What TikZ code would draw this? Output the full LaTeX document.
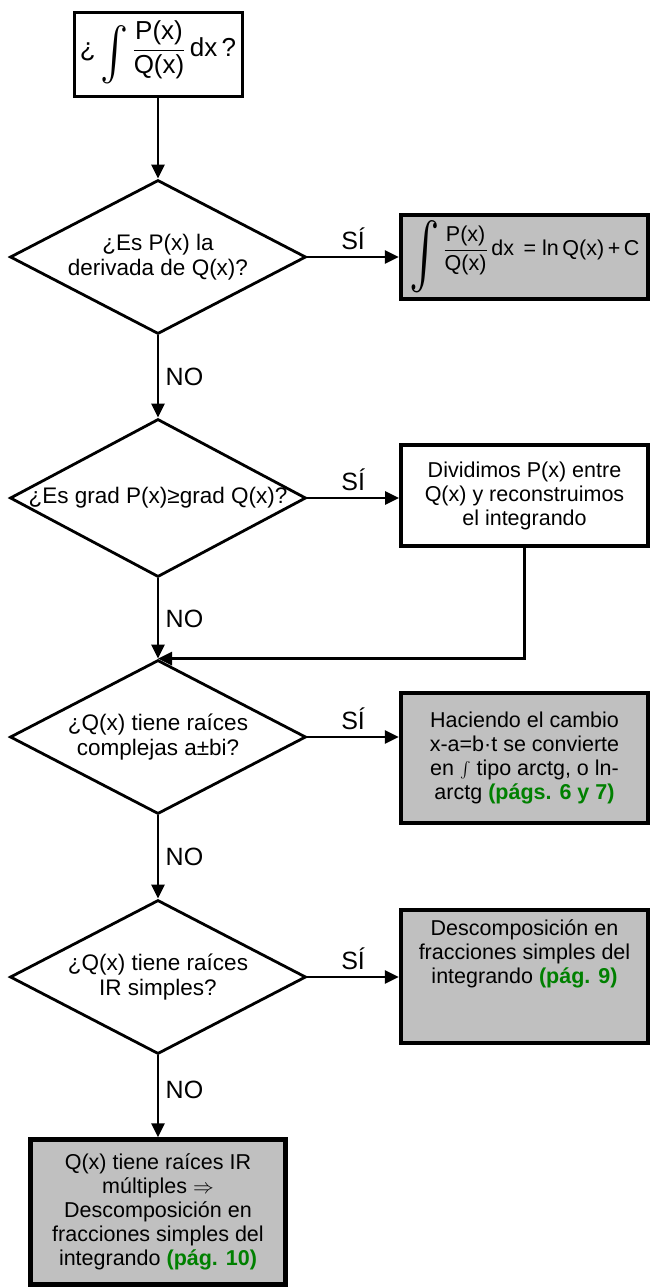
\documentclass[tikz,border=0pt]{standalone}
\usepackage{fontspec}
\setmainfont{Liberation Sans}
\usepackage{graphicx}
\usetikzlibrary{shapes.geometric,arrows.meta}
\definecolor{boxgray}{RGB}{192,192,192}
\definecolor{pgreen}{RGB}{0,128,0}
\newcommand{\tallint}[2]{\raisebox{-0.5\height}{\scalebox{#1}[1]{\resizebox{!}{#2}{$\int$}}}}
\newcommand{\pagref}[1]{\textcolor{pgreen}{\bfseries #1}}
\begin{document}
\begin{tikzpicture}[x=1pt,y=-1pt,
  base/.style={font=\fontsize{21.5}{24}\selectfont, align=center},
  dia/.style={draw, line width=2.8pt, shape=diamond, minimum width=296pt, minimum height=154pt, inner sep=0pt},
  diatext/.style={font=\fontsize{22.5}{24.5}\selectfont, align=center},
  whitebox/.style={base, draw, line width=3.8pt, fill=white, inner sep=0pt},
  graybox/.style={base, draw, line width=4.4pt, fill=boxgray, inner sep=0pt},
  arr/.style={line width=2.8pt, -{Triangle[length=14pt,width=13pt]}},
  lab/.style={font=\fontsize{25}{28}\selectfont}
]
\useasboundingbox (0,0) rectangle (650,1287);

% start box
\node[draw, line width=3pt, minimum width=168pt, minimum height=84pt, inner sep=0pt,
  font=\fontsize{26}{28}\selectfont] (top) at (158,54.5)
  {¿\,\tallint{0.8}{62pt}\,$\displaystyle\frac{\mbox{P(x)}}{\mbox{Q(x)}}$\,dx\,?};

% decisions
\node[dia] (d1) at (158,257) {};
\node[diatext] (d1t) at (d1.center) {¿Es P(x) la\\derivada de Q(x)?};

\node[dia, minimum height=158pt] (d2) at (158,498) {};
\node[diatext] (d2t) at (d2.center) {¿Es grad P(x)≥grad Q(x)?};

\node[dia] (d3) at (158,737) {};
\node[diatext] (d3t) at (d3.center) {¿Q(x) tiene raíces\\complejas a±bi?};

\node[dia] (d4) at (158,977) {};
\node[diatext] (d4t) at (d4.center) {¿Q(x) tiene raíces\\IR simples?};

% result boxes
\node[graybox, minimum width=247pt, minimum height=84pt, font=\fontsize{21.5}{24}\selectfont] (b1) at (524.5,257)
  {\tallint{0.7}{70pt}\,$\displaystyle\frac{\mbox{P(x)}}{\mbox{Q(x)}}$\,dx\ \,=\ ln\,Q(x)\,+\,C};

\node[whitebox, minimum width=247pt, minimum height=101pt] (b2) at (524.5,495.5)
  {Dividimos P(x) entre\\Q(x) y reconstruimos\\el integrando};

\node[graybox, minimum width=247pt, minimum height=130pt] (b3) at (524.5,758)
  {Haciendo el cambio\\x-a=b·t se convierte\\en \raisebox{-3pt}[0pt][0pt]{\resizebox{!}{17pt}{$\int$}} tipo arctg, o ln-\\arctg \pagref{(págs. 6 y 7)}};

\node[graybox, minimum width=247pt, minimum height=133pt] (b4) at (524.5,976.5) {};
\node[base, anchor=north] (b4t) at ([yshift=-8pt]b4.north)
  {Descomposición en\\fracciones simples del\\integrando \pagref{(pág. 9)}};

\node[graybox, minimum width=255pt, minimum height=145pt] (fin) at (158,1212)
  {Q(x) tiene raíces IR\\múltiples $\Rightarrow$\\Descomposición en\\fracciones simples del\\integrando \pagref{(pág. 10)}};

% connectors
\draw[arr] (top.south) -- (d1.north);
\draw[arr] (d1.east) -- node[lab, above=3pt] {SÍ} (d1.east -| b1.west);
\draw[arr] (d1.south) -- node[lab, right=3pt] {NO} (d2.north);
\draw[arr] (d2.east) -- node[lab, above=3pt] {SÍ} (d2.east -| b2.west);
\draw[arr] (d2.south) -- node[lab, right=3pt] {NO} (d3.north);
\draw[arr] (b2.south) |- (d3.north);
\draw[arr] (d3.east) -- node[lab, above=3pt] {SÍ} (d3.east -| b3.west);
\draw[arr] (d3.south) -- node[lab, right=3pt] {NO} (d4.north);
\draw[arr] (d4.east) -- node[lab, above=3pt] {SÍ} (d4.east -| b4.west);
\draw[arr] (d4.south) -- node[lab, right=3pt, pos=0.42] {NO} (fin.north);
\end{tikzpicture}
\end{document}
